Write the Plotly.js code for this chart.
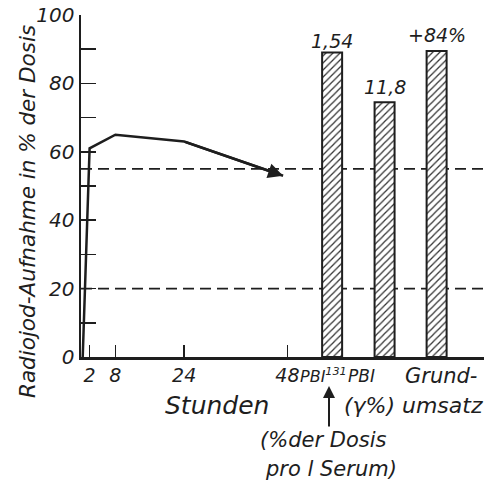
<!DOCTYPE html>
<html><head><meta charset="utf-8">
<script src="https://cdn.plot.ly/plotly-3.0.1.min.js"></script>
<style>html,body{margin:0;padding:0;background:#fff}</style>
</head><body><div id="chart" style="width:487px;height:488px"></div>
<script>
// Uptake curve (hours, % of dose)
const curveHours = [0.4, 2, 8, 24, 47];
const curveUptake = [0, 61, 65, 63, 53];
// Bars
const barCategories = ['PBI131', 'PBI', 'Grundumsatz'];
const barPositions = [58.4, 70.6, 82.7];
const barValues = [89, 74.5, 89.5];
const barLabels = ['1,54', '11,8', '+84%'];
// Reference dashed levels
const refLevels = [55, 20];
// Axis ticks
const xTickVals = [2, 8, 24, 48];
const xTickText = ['2', '8', '24', '48'];
const yTickVals = [0,10,20,30,40,50,60,70,80,90,100];
const yTickText = ['0','','20','','40','','60','','80','','100'];

const FONT = 'DejaVu Sans, sans-serif';
const INK = '#1e1e1e';
const T = 15, B = 357; // pixel top/bottom of plot
const py = p => (B - p) / (B - T);
const L = 81, R = 484;
const px = p => (p - L) / (R - L);
const f = s => ({family:FONT, size:s, color:INK, style:'italic'});

const traces = [
  {type:'scatter', mode:'lines', x: curveHours, y: curveUptake,
   line:{color:INK, width:2.5}, hoverinfo:'skip', showlegend:false},
  {type:'bar', x: barPositions, y: barValues, width: 4.65, name:'bars',
   text: barCategories, textposition:'none',
   marker:{color:'white', line:{color:INK, width:2},
     pattern:{shape:'/', fgcolor:'#333', bgcolor:'white', size:5, solidity:0.25}},
   showlegend:false}
];

const ann = [];
const lab = (xp, yp, text, size) => ann.push({x: px(xp), y: py(yp), xref:'paper', yref:'paper',
  xanchor:'center', yanchor:'middle', text, showarrow:false, font:f(size)});
// arrow head at end of curve
const n = curveHours.length;
ann.push({x: curveHours[n-1], y: curveUptake[n-1], ax: curveHours[n-2], ay: curveUptake[n-2],
  xref:'x', yref:'y', axref:'x', ayref:'y', text:'', showarrow:true,
  arrowhead:2, arrowsize:1.2, arrowwidth:2.5, arrowcolor:INK, standoff:0});
// values above bars
const barLabelY = [41, 87, 35];
barLabels.forEach((t,i)=>ann.push({x: barPositions[i], y: py(barLabelY[i]), xref:'x', yref:'paper',
  xanchor:'center', yanchor:'middle', text:t, showarrow:false, font:f(19)}));
// category labels under axis
lab(323, 375, 'PBI<sup>131</sup>', 16);
lab(361, 376, 'PBI', 17);
lab(441, 376, 'Grund-', 21);
lab(217, 405, 'Stunden', 25);
lab(369, 405, '(γ%)', 22);
lab(442, 405, 'umsatz', 22);
lab(323, 440, '(%der Dosis', 21);
lab(331, 469, 'pro l Serum)', 21);
// y axis title
ann.push({x: px(28), y: py(212), xref:'paper', yref:'paper', xanchor:'center', yanchor:'middle',
  textangle:-90, text:'Radiojod-Aufnahme in % der Dosis', showarrow:false, font:f(21.5)});
// pointer arrow
ann.push({x: px(329), y: py(386), xref:'paper', yref:'paper', text:'', showarrow:true,
  ax:0, ay:42, arrowhead:2, arrowsize:1.2, arrowwidth:2, arrowcolor:INK, standoff:0});

const shapes = refLevels.map(v=>({type:'line', xref:'paper', yref:'y', x0:0, x1:1, y0:v, y1:v,
  layer:'below', line:{color:INK, width:1.6, dash:'11px,6px'}}));

const layout = {
  width:487, height:488, margin:{l:L, r:487-R, t:T, b:488-B},
  paper_bgcolor:'white', plot_bgcolor:'white',
  bargap:0,
  xaxis:{range:[0, (R-L)/4.3], tickvals:xTickVals, ticktext:xTickText, ticks:'inside', ticklen:12,
    tickwidth:1.5, tickcolor:INK, showgrid:false, zeroline:false, showline:true, linecolor:INK,
    linewidth:2.5, tickfont:f(19), fixedrange:true},
  yaxis:{range:[0,100], tickvals:yTickVals, ticktext:yTickText, ticks:'inside', ticklen:15,
    tickwidth:1.5, tickcolor:INK, showgrid:false, zeroline:false, showline:true, linecolor:INK,
    linewidth:2.5, tickfont:f(20), fixedrange:true},
  shapes, annotations: ann, showlegend:false
};
Plotly.newPlot('chart', traces, layout, {displayModeBar:false, staticPlot:true});
</script></body></html>
